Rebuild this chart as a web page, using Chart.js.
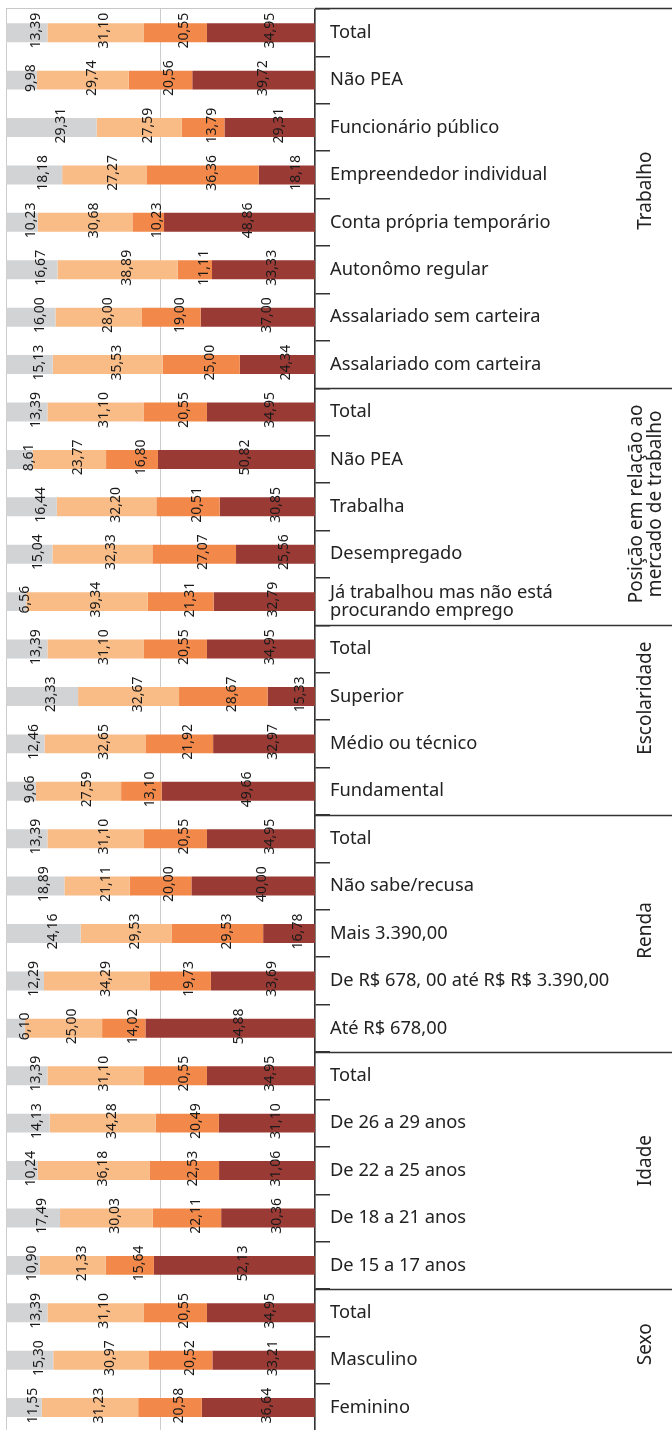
<!DOCTYPE html>
<html lang="pt-BR">
<head>
<meta charset="utf-8">
<script src="https://cdn.jsdelivr.net/npm/chart.js@4.4.1/dist/chart.umd.min.js"></script>
<style>
html, body { margin: 0; padding: 0; background: #fff; overflow: hidden; }
#wrap { width: 672px; height: 1440px; }
</style>
</head>
<body>
<div id="wrap"><canvas id="chart"></canvas></div>
<script>
// categorias de cima para baixo
const categorias = [
    "Total", "Não PEA", "Funcionário público", "Empreendedor individual",
    "Conta própria temporário", "Autonômo regular", "Assalariado sem carteira", "Assalariado com carteira",
    "Total", "Não PEA", "Trabalha", "Desempregado",
    ["Já trabalhou mas não está", "procurando emprego"],
    "Total", "Superior", "Médio ou técnico", "Fundamental",
    "Total", "Não sabe/recusa", "Mais 3.390,00", "De R$ 678, 00 até R$ R$ 3.390,00", "Até R$ 678,00",
    "Total", "De 26 a 29 anos", "De 22 a 25 anos", "De 18 a 21 anos", "De 15 a 17 anos",
    "Total", "Masculino", "Feminino"
];

const grupos = ["Trabalho", ["Posição em relação ao", "mercado de trabalho"], "Escolaridade", "Renda", "Idade", "Sexo"];
const grupoTamanhos = [8, 5, 4, 5, 5, 3];

const serie1 = [13.39, 9.98, 29.31, 18.18, 10.23, 16.67, 16.00, 15.13,
    13.39, 8.61, 16.44, 15.04, 6.56,
    13.39, 23.33, 12.46, 9.66,
    13.39, 18.89, 24.16, 12.29, 6.10,
    13.39, 14.13, 10.24, 17.49, 10.90,
    13.39, 15.30, 11.55];
const serie2 = [31.10, 29.74, 27.59, 27.27, 30.68, 38.89, 28.00, 35.53,
    31.10, 23.77, 32.20, 32.33, 39.34,
    31.10, 32.67, 32.65, 27.59,
    31.10, 21.11, 29.53, 34.29, 25.00,
    31.10, 34.28, 36.18, 30.03, 21.33,
    31.10, 30.97, 31.23];
const serie3 = [20.55, 20.56, 13.79, 36.36, 10.23, 11.11, 19.00, 25.00,
    20.55, 16.80, 20.51, 27.07, 21.31,
    20.55, 28.67, 21.92, 13.10,
    20.55, 20.00, 29.53, 19.73, 14.02,
    20.55, 20.49, 22.53, 22.11, 15.64,
    20.55, 20.52, 20.58];
const serie4 = [34.95, 39.72, 29.31, 18.18, 48.86, 33.33, 37.00, 24.34,
    34.95, 50.82, 30.85, 25.56, 32.79,
    34.95, 15.33, 32.97, 49.66,
    34.95, 40.00, 16.78, 33.69, 54.88,
    34.95, 31.10, 31.06, 30.36, 52.13,
    34.95, 33.21, 36.64];

const cores = ["#d2d3d5", "#f9bc87", "#f2894a", "#9a3a35"];
const fonte = "'Noto Sans', sans-serif";

// rótulos de valor girados sobre cada segmento
const rotulosValores = {
    id: "rotulosValores",
    afterDatasetsDraw(chart) {
        const ctx = chart.ctx;
        ctx.save();
        ctx.font = "14px " + fonte;
        ctx.fillStyle = "#1a1a1a";
        ctx.textAlign = "center";
        ctx.textBaseline = "middle";
        chart.data.datasets.forEach((ds, i) => {
            chart.getDatasetMeta(i).data.forEach((bar, j) => {
                const cx = (bar.x + bar.base) / 2 + 9;
                const cy = bar.y - 2;
                ctx.save();
                ctx.translate(cx, cy);
                ctx.rotate(-Math.PI / 2);
                ctx.fillText(ds.data[j].toFixed(2).replace(".", ","), 0, 0);
                ctx.restore();
            });
        });
        ctx.restore();
    }
};

// linhas de grupo, borda superior e nomes dos grupos
const grupoPlugin = {
    id: "grupoPlugin",
    afterDraw(chart) {
        const ctx = chart.ctx;
        const a = chart.chartArea;
        const y = chart.scales.y;
        const ajuste = [-8, -3, -22, -3, -10, -16];
        ctx.save();
        ctx.lineWidth = 1;
        ctx.strokeStyle = "#c8c8c8";
        ctx.beginPath();
        ctx.moveTo(a.left, a.top - 0.5);
        ctx.lineTo(a.right, a.top - 0.5);
        ctx.stroke();

        ctx.strokeStyle = "#333";
        ctx.lineWidth = 1.5;
        ctx.beginPath();
        ctx.moveTo(a.right, a.top - 0.5);
        ctx.lineTo(chart.width, a.top - 0.5);
        ctx.stroke();

        ctx.font = "19px " + fonte;
        ctx.fillStyle = "#222";
        ctx.textAlign = "center";
        ctx.textBaseline = "middle";
        let inicio = 0;
        grupoTamanhos.forEach((n, i) => {
            const fim = inicio + n;
            if (fim < categorias.length) {
                const yb = Math.round(y.getPixelForValue(fim - 0.5)) + 0.5;
                ctx.beginPath();
                ctx.moveTo(a.right, yb);
                ctx.lineTo(chart.width, yb);
                ctx.stroke();
            }
            const yc = y.getPixelForValue((inicio + fim - 1) / 2) + ajuste[i];
            const linhas = Array.isArray(grupos[i]) ? grupos[i] : [grupos[i]];
            ctx.save();
            ctx.translate(646, yc);
            ctx.rotate(-Math.PI / 2);
            linhas.forEach((t, k) => {
                ctx.fillText(t, 0, (k - (linhas.length - 1) / 2) * 19);
            });
            ctx.restore();
            inicio = fim;
        });
        ctx.restore();
    }
};

new Chart(document.getElementById("chart"), {
    type: "bar",
    data: {
        labels: categorias,
        datasets: [
            { label: "1", data: serie1, backgroundColor: cores[0] },
            { label: "2", data: serie2, backgroundColor: cores[1] },
            { label: "3", data: serie3, backgroundColor: cores[2] },
            { label: "4", data: serie4, backgroundColor: cores[3] }
        ]
    },
    options: {
        indexAxis: "y",
        responsive: true,
        maintainAspectRatio: false,
        animation: false,
        layout: { padding: { left: 6, top: 9, right: 0, bottom: 7 } },
        datasets: { bar: { barPercentage: 0.4, categoryPercentage: 1, borderWidth: 0 } },
        plugins: { legend: { display: false }, tooltip: { enabled: false } },
        scales: {
            x: {
                stacked: true,
                min: 0,
                max: 100,
                ticks: { display: false, stepSize: 50 },
                grid: { color: "#cccccc", lineWidth: 1, drawTicks: false },
                border: { display: false },
                afterFit(scale) { scale.height = 0; }
            },
            y: {
                stacked: true,
                position: "right",
                grid: { offset: true, drawOnChartArea: false, tickLength: 15, color: "#333", lineWidth: 1.5 },
                border: { color: "#333", width: 1.5 },
                ticks: {
                    padding: 0,
                    autoSkip: false,
                    color: "#222",
                    font: { family: fonte, size: 18.3, lineHeight: 0.95 }
                },
                afterFit(scale) { scale.width = 357; }
            }
        }
    },
    plugins: [rotulosValores, grupoPlugin]
});
</script>
</body>
</html>
